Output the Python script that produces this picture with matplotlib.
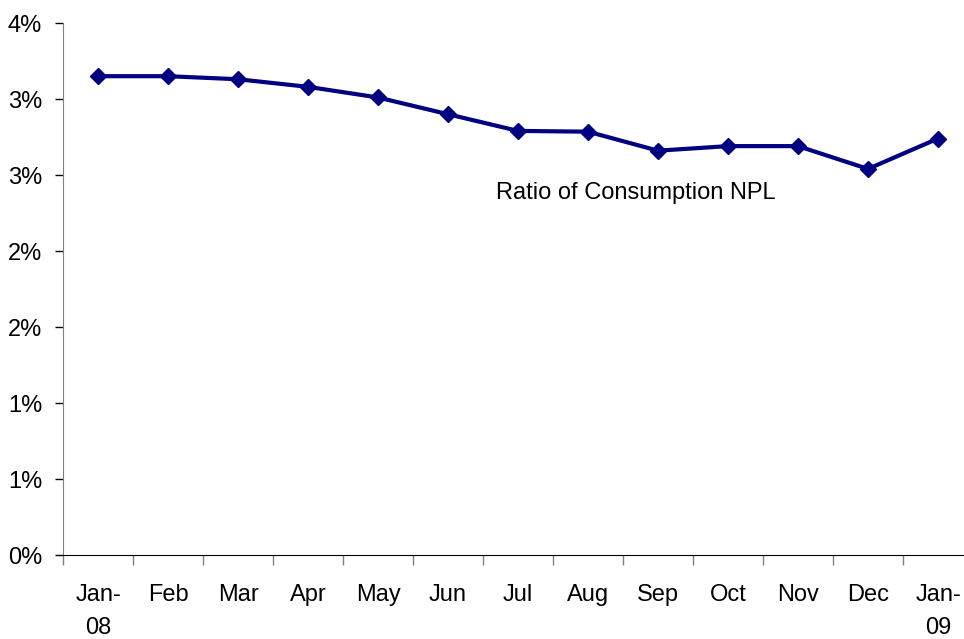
import numpy as np
import matplotlib.pyplot as plt
from matplotlib.ticker import FixedLocator, FuncFormatter

months = ["Jan-\n08", "Feb", "Mar", "Apr", "May", "Jun", "Jul",
          "Aug", "Sep", "Oct", "Nov", "Dec", "Jan-\n09"]
npl_ratio = [3.15, 3.15, 3.13, 3.08, 3.01, 2.90, 2.79,
             2.785, 2.66, 2.69, 2.69, 2.54, 2.74]
series_label = "Ratio of Consumption NPL"

plt.rcParams['font.family'] = ['Liberation Sans', 'DejaVu Sans']

fig = plt.figure(figsize=(9.64, 6.39), dpi=100)
ax = fig.add_axes([63 / 964, 84 / 639, 910 / 964, 532 / 639])

x = np.arange(len(months))
ax.plot(x, npl_ratio, color="#000080", linewidth=3.0, marker="D",
        markersize=8.5, markeredgecolor="#000080")

ax.set_xlim(-0.5, len(months) - 0.5)
ax.set_ylim(0, 3.5)

# y ticks every 0.5%, rounded to whole percent like the original
ax.set_yticks(np.arange(0, 3.51, 0.5))
ax.yaxis.set_major_formatter(FuncFormatter(lambda v, p: "%d%%" % int(v + 0.5)))

# x: tick marks on category boundaries, labels at centres
ax.xaxis.set_major_locator(FixedLocator(np.arange(-0.5, len(months), 1.0)))
ax.xaxis.set_major_formatter(FuncFormatter(lambda v, p: ""))
ax.xaxis.set_minor_locator(FixedLocator(x))
ax.set_xticklabels(months, minor=True, linespacing=1.65)
ax.tick_params(axis="x", which="major", direction="out", length=7,
               width=1, color="#808080")
ax.tick_params(axis="x", which="minor", length=0, pad=21, labelsize=17)
ax.tick_params(axis="y", direction="out", length=6, width=1,
               color="#000000", pad=9, labelsize=17)

for s in ["top", "right"]:
    ax.spines[s].set_visible(False)
ax.spines["left"].set_color("#808080")
ax.spines["bottom"].set_color("#000000")

ax.text(5.69, 2.38, series_label, fontsize=17, va="center", ha="left")

fig.savefig("out.png", dpi=100)
